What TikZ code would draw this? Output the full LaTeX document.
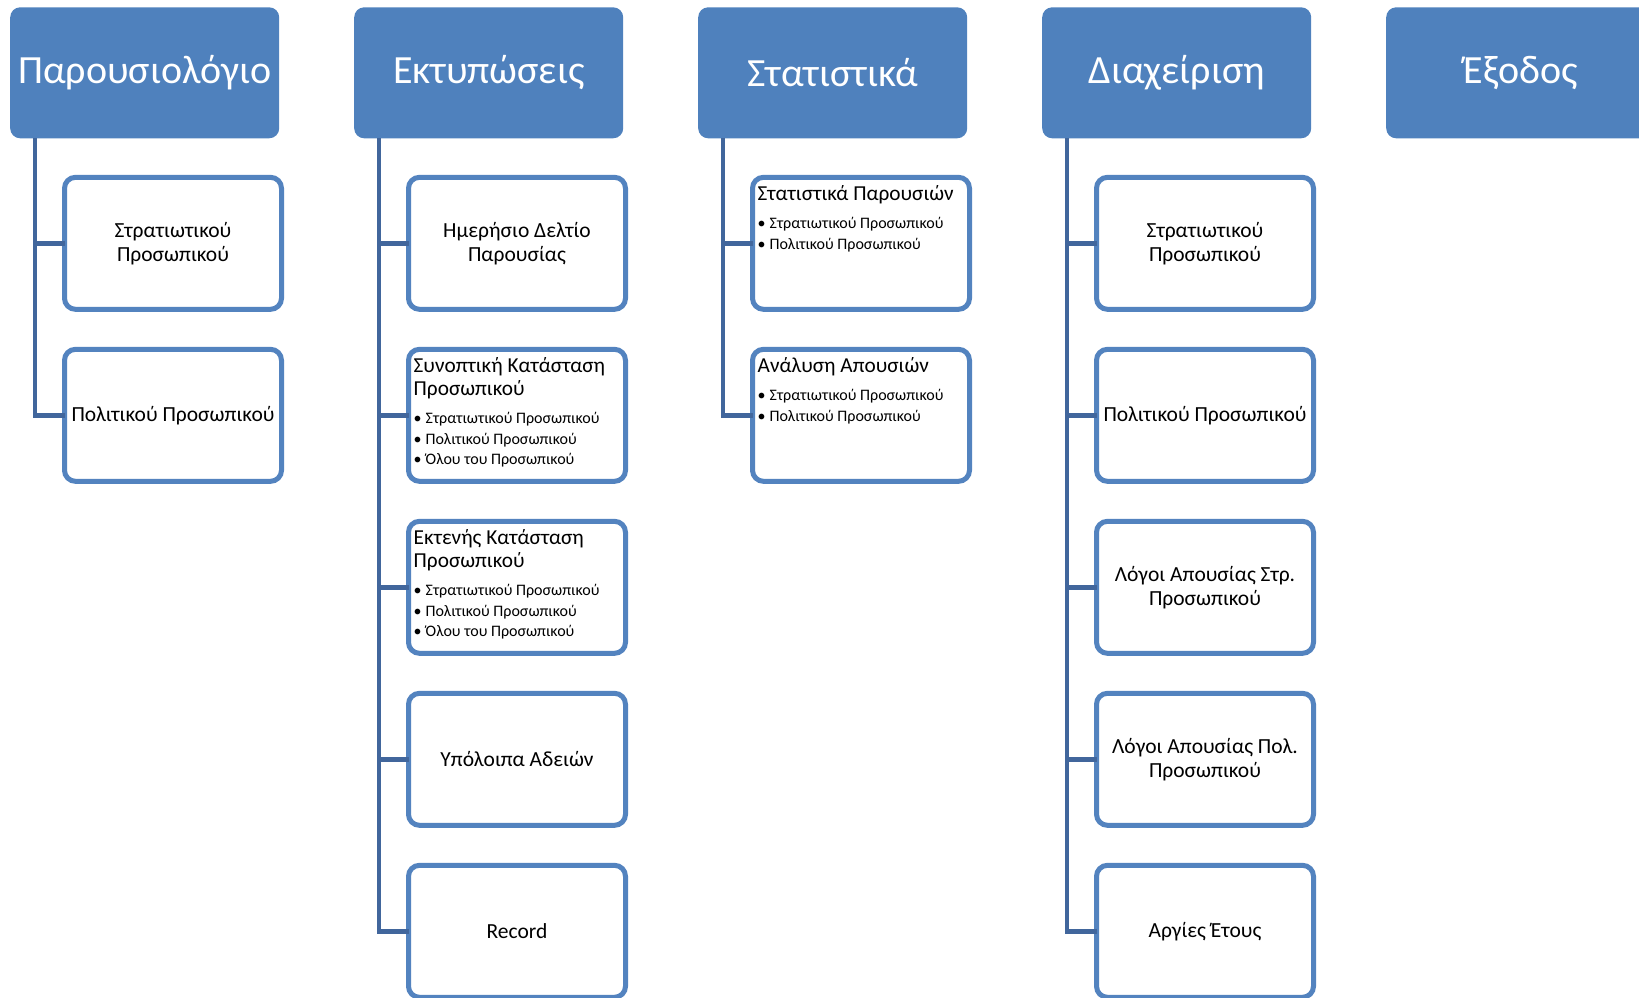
\documentclass[tikz,border=0pt]{standalone}
\usepackage{fontspec}
\setmainfont{Carlito}
\usetikzlibrary{positioning}

\definecolor{hdrblue}{HTML}{4F81BD}
\definecolor{boxblue}{HTML}{5383BF}
\definecolor{linkblue}{HTML}{41669C}

% text of a box with a title and a list
\newcommand{\listbox}[2]{\begin{minipage}[t]{210pt}\setlength{\parskip}{0pt}%
\fontsize{21.3}{23}\selectfont #1\par\vspace{6.8pt}%
\fontsize{16}{20.7}\selectfont #2\end{minipage}}
\newcommand{\itm}[1]{\makebox[12pt][l]{•}#1\par}

\begin{document}
\begin{tikzpicture}[
		x=1pt, y=-1pt,
		header/.style={rectangle, rounded corners=10pt, fill=hdrblue, text=white, outer sep=0pt, minimum width=269pt, minimum height=131pt, font=\fontsize{40}{44}\selectfont},
		child/.style={rectangle, rounded corners=11pt, draw=boxblue, line width=5pt, fill=white, outer sep=0pt, minimum width=217pt, minimum height=132pt, align=center, font=\fontsize{21.5}{24}\selectfont},
		listtext/.style={inner sep=0pt, anchor=base west},
		branch/.style={draw=linkblue, line width=4.5pt},
		]
		\clip (0,0) rectangle (1639,997);

		%Main Nodes
		\node[header]	(hdr_att)	at (144.7,72.8)			{Παρουσιολόγιο};
		\node[header]	(hdr_prn)	[right=75pt of hdr_att]	{Εκτυπώσεις};
		\node[header]	(hdr_sta)	[right=75pt of hdr_prn]	{Στατιστικά};
		\node[header]	(hdr_adm)	[right=75pt of hdr_sta]	{Διαχείριση};
		\node[header]	(hdr_exit)	[right=75pt of hdr_adm]	{Έξοδος};

		%Trunks
		\coordinate (trunk_att) at ([xshift=25pt]hdr_att.south west);
		\coordinate (trunk_prn) at ([xshift=25pt]hdr_prn.south west);
		\coordinate (trunk_sta) at ([xshift=25pt]hdr_sta.south west);
		\coordinate (trunk_adm) at ([xshift=25pt]hdr_adm.south west);

		%Attendance
		\node[child]	(att_1)	[below=39pt of hdr_att, xshift=28.3pt]	{Στρατιωτικού\\Προσωπικού};
		\node[child]	(att_2)	[below=40pt of att_1]	{Πολιτικού Προσωπικού};
		\draw[branch]	(trunk_att) |- (att_1.west);
		\draw[branch]	(trunk_att) |- (att_2.west);

		%Printouts
		\node[child]	(prn_1)	[below=39pt of hdr_prn, xshift=28.3pt]	{Ημερήσιο Δελτίο\\Παρουσίας};
		\node[child]	(prn_2)	[below=40pt of prn_1]	{};
		\node[child]	(prn_3)	[below=40pt of prn_2]	{};
		\node[child]	(prn_4)	[below=40pt of prn_3]	{Υπόλοιπα Αδειών};
		\node[child]	(prn_5)	[below=40pt of prn_4]	{Record};
		\node[listtext]	(prn_2_txt)	at ([xshift=5pt, yshift=-23.5pt]prn_2.north west)
			{\listbox{Συνοπτική Κατάσταση\\Προσωπικού}{\itm{Στρατιωτικού Προσωπικού}\itm{Πολιτικού Προσωπικού}\itm{Όλου του Προσωπικού}}};
		\node[listtext]	(prn_3_txt)	at ([xshift=5pt, yshift=-23.5pt]prn_3.north west)
			{\listbox{Εκτενής Κατάσταση\\Προσωπικού}{\itm{Στρατιωτικού Προσωπικού}\itm{Πολιτικού Προσωπικού}\itm{Όλου του Προσωπικού}}};
		\draw[branch]	(trunk_prn) |- (prn_1.west);
		\draw[branch]	(trunk_prn) |- (prn_2.west);
		\draw[branch]	(trunk_prn) |- (prn_3.west);
		\draw[branch]	(trunk_prn) |- (prn_4.west);
		\draw[branch]	(trunk_prn) |- (prn_5.west);

		%Statistics
		\node[child]	(sta_1)	[below=39pt of hdr_sta, xshift=28.3pt]	{};
		\node[child]	(sta_2)	[below=40pt of sta_1]	{};
		\node[listtext]	(sta_1_txt)	at ([xshift=5pt, yshift=-23.5pt]sta_1.north west)
			{\listbox{Στατιστικά Παρουσιών}{\itm{Στρατιωτικού Προσωπικού}\itm{Πολιτικού Προσωπικού}}};
		\node[listtext]	(sta_2_txt)	at ([xshift=5pt, yshift=-23.5pt]sta_2.north west)
			{\listbox{Ανάλυση Απουσιών}{\itm{Στρατιωτικού Προσωπικού}\itm{Πολιτικού Προσωπικού}}};
		\draw[branch]	(trunk_sta) |- (sta_1.west);
		\draw[branch]	(trunk_sta) |- (sta_2.west);

		%Administration
		\node[child]	(adm_1)	[below=39pt of hdr_adm, xshift=28.3pt]	{Στρατιωτικού\\Προσωπικού};
		\node[child]	(adm_2)	[below=40pt of adm_1]	{Πολιτικού Προσωπικού};
		\node[child]	(adm_3)	[below=40pt of adm_2]	{Λόγοι Απουσίας Στρ.\\Προσωπικού};
		\node[child]	(adm_4)	[below=40pt of adm_3]	{Λόγοι Απουσίας Πολ.\\Προσωπικού};
		\node[child]	(adm_5)	[below=40pt of adm_4]	{Αργίες Έτους};
		\draw[branch]	(trunk_adm) |- (adm_1.west);
		\draw[branch]	(trunk_adm) |- (adm_2.west);
		\draw[branch]	(trunk_adm) |- (adm_3.west);
		\draw[branch]	(trunk_adm) |- (adm_4.west);
		\draw[branch]	(trunk_adm) |- (adm_5.west);

	\end{tikzpicture}
\end{document}
